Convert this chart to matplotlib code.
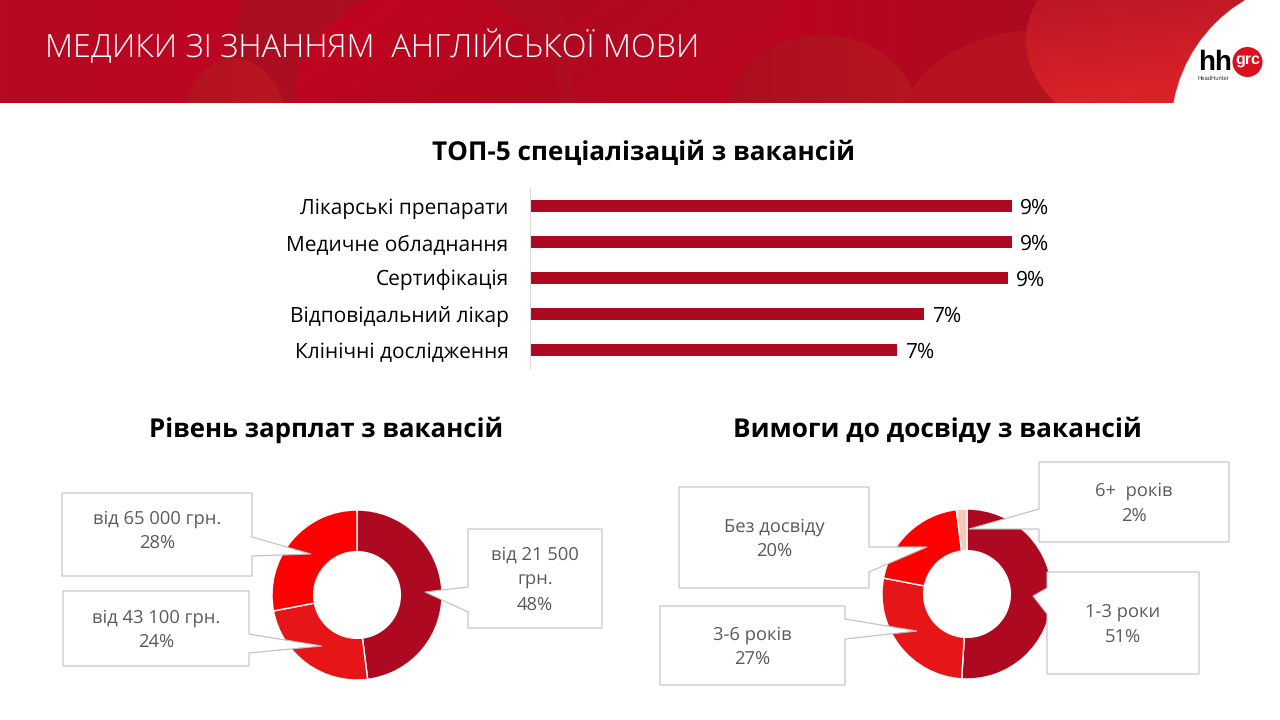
import numpy as np
import matplotlib
matplotlib.use('Agg')
import matplotlib.pyplot as plt
from matplotlib.colors import to_rgb
from matplotlib.patches import Circle, Ellipse, Polygon, Rectangle

plt.rcParams['font.family'] = ['Open Sans', 'DejaVu Sans']
plt.rcParams['text.hinting'] = 'no_hinting'

# Data
specialties = ['Лікарські препарати', 'Медичне обладнання', 'Сертифікація',
               'Відповідальний лікар', 'Клінічні дослідження']
specialty_values = [9.2, 9.2, 9.12, 7.52, 7.0]
specialty_labels = ['9%', '9%', '9%', '7%', '7%']

salary_values = [48, 24, 28]
salary_colors = ['#AD0920', '#E61518', '#FF0000']

experience_values = [51, 27, 20, 2]
experience_colors = ['#AD0920', '#E61518', '#FF0000', '#F9C8B8']

W, H = 1280, 720
fig = plt.figure(figsize=(W / 100, H / 100), dpi=100, facecolor='white')


def px_axes(x0, y0, x1, y1):
    # axes from pixel box, y counted from the top
    return fig.add_axes([x0 / W, 1 - y1 / H, (x1 - x0) / W, (y1 - y0) / H])


# Header
bg = px_axes(0, 0, W, H)
bg.set_xlim(0, W)
bg.set_ylim(H, 0)
bg.set_autoscale_on(False)
bg.axis('off')
bg.set_zorder(0)

HEADER_H = 103


def fill_gradient(x0, x1, c0, c1, z, clip=None, slant=0.0):
    # paint header strip x0..x1 going from c0 to c1, slant tips the gradient downwards
    xx, yy = np.meshgrid(np.linspace(0, 1, 64), np.linspace(0, 1, 32))
    t = ((1 - slant) * xx + slant * yy)[..., None]
    img = np.array(to_rgb(c0)) * (1 - t) + np.array(to_rgb(c1)) * t
    im = bg.imshow(img, extent=(x0, x1, HEADER_H, 0), aspect='auto', zorder=z)
    if clip is not None:
        clip.set_transform(bg.transData)
        im.set_clip_path(clip)


# base strip, colour changes along x
fill_gradient(0, 240, '#B60924', '#BD0522', 1)
fill_gradient(240, 560, '#BD0522', '#AE0A22', 1)
fill_gradient(560, 790, '#AE0A22', '#BE0420', 1, slant=0.4)
# dark band behind the first circle
fill_gradient(220, 580, '#AB0F22', '#AE0C22', 2, clip=Ellipse((400, 110), 350, 500))
# small lump bottom left
fill_gradient(170, 300, '#B2121F', '#BA1720', 3, clip=Ellipse((234, 140), 112, 164))
# bright circle
fill_gradient(290, 565, '#C5041F', '#AF0820', 4, clip=Ellipse((427, 100), 266, 222), slant=0.3)
# right block
fill_gradient(786, 1034, '#BB0420', '#AB0B20', 5)
fill_gradient(1034, 1280, '#AB0B20', '#AB0B20', 5)
# domes
fill_gradient(725, 920, '#AC0E20', '#B5161F', 6, clip=Ellipse((822, 115), 190, 160))
fill_gradient(895, 1060, '#B5131F', '#B5141F', 7, clip=Ellipse((1040, 140), 290, 220))
# lighter circle, gets brighter to the bottom
fill_gradient(1020, 1280, '#BB1726', '#E22429', 8, clip=Ellipse((1176, 40), 300, 210), slant=0.75)

bg.add_patch(Circle((1322, 130), 151, fc='white', ec='none', zorder=9))
bg.add_patch(Rectangle((1172, 103), 108, 4, fc='white', ec='none', zorder=9))

bg.text(45, 48, 'МЕДИКИ ЗІ ЗНАННЯМ  АНГЛІЙСЬКОЇ МОВИ', color='white', fontsize=23.3,
        fontweight='light', va='center', ha='left', zorder=10)

# Logo
bg.text(1198, 70.5, 'hh', color='black', fontsize=20, fontweight='bold',
        family='Liberation Sans', ha='left', va='baseline', zorder=11)
bg.add_patch(Circle((1247.5, 62), 15, fc='#DB0F1E', ec='none', zorder=11))
bg.text(1247.5, 60.5, 'grc', color='white', fontsize=11.5, fontweight='bold',
        family='Liberation Sans', ha='center', va='center', zorder=12)
bg.text(1198, 78.5, 'HeadHunter', color='#333333', fontsize=4.2, family='Liberation Sans',
        ha='left', va='center', zorder=11)

# Section titles
bg.text(643, 153, 'ТОП-5 спеціалізацій з вакансій', fontsize=18.8, fontweight='bold',
        color='black', ha='center', va='center')
bg.text(326, 430, 'Рівень зарплат з вакансій', fontsize=18.6, fontweight='bold',
        color='black', ha='center', va='center')
bg.text(937, 430, 'Вимоги до досвіду з вакансій', fontsize=18.9, fontweight='bold',
        color='black', ha='center', va='center')

# Bars
ax = px_axes(530, 188, 1060, 368)
y = np.arange(len(specialties))
ax.barh(y, specialty_values, height=0.36, color='#AD0920')
ax.set_xlim(0, 530 / 52.4)
ax.set_ylim(4.5, -0.5)
ax.set_yticks(y)
ax.set_yticklabels(specialties, fontsize=15, color='black')
ax.tick_params(axis='y', length=0, pad=15.5)
ax.set_xticks([])
for s in ['top', 'right', 'bottom']:
    ax.spines[s].set_visible(False)
ax.spines['left'].set_color('#D9D9D9')
ax.patch.set_alpha(0)
ax.set_zorder(1)
for i in range(len(specialties)):
    ax.annotate(specialty_labels[i], (specialty_values[i], i), xytext=(6, -2),
                textcoords='offset points', fontsize=15, color='black', va='center')

# Donuts
ax1 = px_axes(272, 510, 442, 680)
ax1.pie(salary_values, colors=salary_colors, startangle=90, counterclock=False, radius=1,
        wedgeprops=dict(width=0.49, edgecolor='white', linewidth=1.0))
ax1.set_xlim(-1, 1)
ax1.set_ylim(-1, 1)
ax1.set_zorder(1)

ax2 = px_axes(882, 509, 1052, 679)
ax2.pie(experience_values, colors=experience_colors, startangle=90, counterclock=False, radius=1,
        wedgeprops=dict(width=0.49, edgecolor='white', linewidth=1.0))
ax2.set_xlim(-1, 1)
ax2.set_ylim(-1, 1)
ax2.set_zorder(1)

# Callouts, on top of the donuts
top = px_axes(0, 0, W, H)
top.set_xlim(0, W)
top.set_ylim(H, 0)
top.axis('off')
top.set_zorder(2)


def callout(x0, y0, x1, y1, side, tip, p0, p1, text, dy=1.5):
    # box with a pointer leaving from the left or right side
    if side == 'right':
        pts = [(x0, y0), (x1, y0), (x1, p0), tip, (x1, p1), (x1, y1), (x0, y1)]
    else:
        pts = [(x0, y0), (x1, y0), (x1, y1), (x0, y1), (x0, p1), tip, (x0, p0)]
    top.add_patch(Polygon(pts, closed=True, fc='white', ec='#BFBFBF', lw=0.8, joinstyle='miter'))
    top.text((x0 + x1) / 2, (y0 + y1) / 2 + dy, text, color='#595959', fontsize=13.2, ha='center',
             va='center', linespacing=1.5)


callout(62, 493, 252, 576, 'right', (311, 554), 537, 556, 'від 65 000 грн.\n28%', dy=-3.5)
callout(63, 591, 249, 666, 'right', (322, 646), 634, 653, 'від 43 100 грн.\n24%')
callout(468, 529, 602, 628, 'left', (425, 592), 587, 612, 'від 21 500\nгрн.\n48%')
callout(1039, 462, 1229, 542, 'left', (969, 529), 509, 529, '6+  років\n2%')
callout(679, 487, 869, 588, 'right', (927, 547), 547, 572, 'Без досвіду\n20%')
callout(660, 606, 845, 685, 'right', (917, 631), 619, 639, '3-6 років\n27%')
callout(1047, 572, 1199, 674, 'left', (1033, 596), 588, 614, '1-3 роки\n51%')

fig.savefig('out.png', dpi=100, facecolor='white')
